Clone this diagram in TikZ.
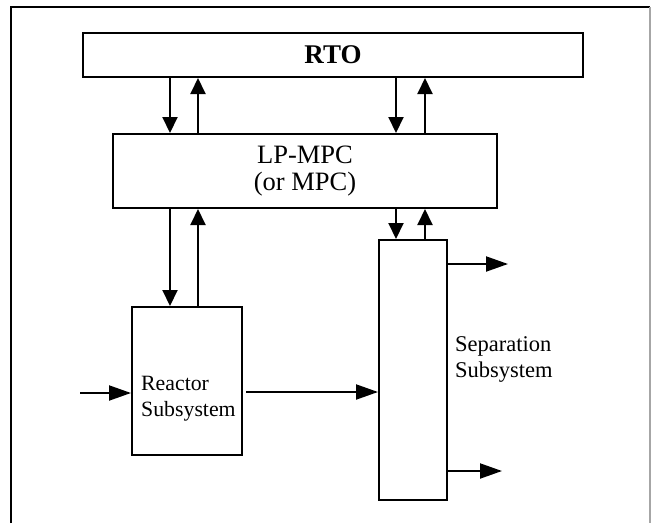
\documentclass[tikz,border=0pt]{standalone}
\usepackage{fontspec}
\setmainfont{Liberation Serif}
\usepackage{tikz}
\usetikzlibrary{arrows.meta}
\tikzset{blk/.style={draw, line width=2pt, rectangle, inner sep=0pt},
         sig/.style={line width=2pt, -{Triangle[length=16pt,width=15pt]}},
         flow/.style={line width=2pt, -{Triangle[length=22pt,width=15pt]}},
         lbl/.style={inner sep=0pt, align=left, font=\fontsize{22.5}{26.5}\selectfont}}

\begin{document}
\begin{tikzpicture}[x=1pt, y=-1pt]
\useasboundingbox (0,0) rectangle (651,523);
% frame round the figure
\draw[line width=2pt] (11,523) -- (11,7) -- (650,7);
\draw[line width=1.5pt, black!35] (650,7) -- (650,523);

% the blocks
\node[blk, minimum width=500pt, minimum height=44pt, font=\fontsize{27}{32}\selectfont\bfseries] (rto) at (333,55) {RTO};
\node[blk, minimum width=384pt, minimum height=74pt, align=center, font=\fontsize{26.5}{26.5}\selectfont] (lp) at (305,171) {LP-MPC\\(or MPC)};
\node[blk, minimum width=110pt, minimum height=148pt] (reactor) at (187,381) {};
\node[blk, minimum width=68pt, minimum height=260pt] (sep) at (413,370) {};
\node[lbl, anchor=north west, font=\fontsize{21.8}{26.5}\selectfont] (reactor-lbl) at (141,376) {Reactor\\Subsystem};
\node[lbl, anchor=north west] (sep-lbl) at (455,336) {Separation\\Subsystem};

% x positions of the vertical signals
\coordinate (d1) at (170,0);
\coordinate (u1) at (198,0);
\coordinate (d2) at (396,0);
\coordinate (u2) at (425,0);

% RTO <-> LP-MPC
\draw[sig] (rto.south -| d1) -- (lp.north -| d1);
\draw[sig] (lp.north -| u1) -- (rto.south -| u1);
\draw[sig] (rto.south -| d2) -- (lp.north -| d2);
\draw[sig] (lp.north -| u2) -- (rto.south -| u2);
% LP-MPC <-> subsystems
\draw[sig] (lp.south -| d1) -- (reactor.north -| d1);
\draw[sig] (reactor.north -| u1) -- (lp.south -| u1);
\draw[sig] (lp.south -| d2) -- (sep.north -| d2);
\draw[sig] (sep.north -| u2) -- (lp.south -| u2);

% material flow
\coordinate (feed) at (80,393);
\coordinate (mid) at (246,392);
\coordinate (out1) at (508,264);
\coordinate (out2) at (502,471);
\draw[flow] (feed) -- (feed -| reactor.west);
\draw[flow] (mid) -- (mid -| sep.west);
\draw[flow] (sep.east |- out1) -- (out1);
\draw[flow] (sep.east |- out2) -- (out2);
\end{tikzpicture}
\end{document}
